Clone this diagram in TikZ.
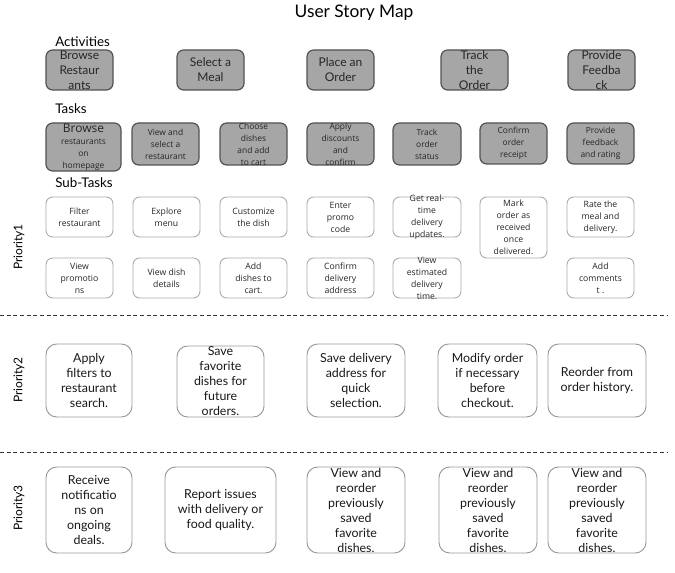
\documentclass[tikz,border=0pt]{standalone}
\usepackage{fontspec}
\setmainfont{Lato}
\newfontfamily\smallfont{Open Sans}
\begin{document}
\begin{tikzpicture}[x=0.75pt,y=-0.75pt,
  act/.style={draw=black!68,line width=0.9pt,fill=black!35,rounded corners=5pt},
  acttxt/.style={align=center,font=\fontsize{9}{11.25}\selectfont,text=black!85},
  tsk/.style={draw=black!68,line width=0.9pt,fill=black!35,rounded corners=5pt},
  tsktxt/.style={align=center,font=\smallfont\fontsize{6.3}{9}\selectfont,text=black!85},
  sub/.style={draw=black!33,line width=0.7pt,fill=white,rounded corners=5pt},
  subtxt/.style={align=center,font=\smallfont\fontsize{6.5}{9}\selectfont,text=black!85},
  pri/.style={draw=black!40,line width=0.7pt,fill=white,rounded corners=8pt},
  pritxt/.style={align=center,font=\fontsize{9.3}{11.25}\selectfont,text=black!90},
  hdr/.style={font=\fontsize{10}{12}\selectfont,anchor=west,inner sep=0pt},
  plabel/.style={font=\fontsize{9}{11}\selectfont,rotate=90,inner sep=0pt},
  sep/.style={line width=0.7pt,dash pattern=on 3pt off 2pt,draw=black!80}]
\useasboundingbox (0,0) rectangle (675,573);
\newcommand\ubox[7]{\node[#6, minimum width={(#4-#2)*0.75pt}, minimum height={(#5-#3)*0.75pt}, label={[#6txt]center:{#7}}] (#1) at ({(#2+#4)/2},{(#3+#5)/2}) {};}

% title and headers
\node[font=\fontsize{13}{15}\selectfont] (title) at (354,13) {User Story Map};
\node[hdr] (hact) at (55,42) {Activities};
\node[hdr] (htsk) at (55,109) {Tasks};
\node[hdr] (hsub) at (55,183) {Sub-Tasks};
\node[plabel] (p1) at (19,247) {Priority1};
\node[plabel] (p2) at (19,380) {Priority2};
\node[plabel] (p3) at (19,508) {Priority3};

% activities
\ubox{a1}{46}{50}{113}{90}{act}{Browse\\Restaur\\ants}
\ubox{a2}{177}{50}{244}{90}{act}{Select a\\Meal}
\ubox{a3}{307}{50}{374}{90}{act}{Place an\\Order}
\ubox{a4}{441}{50}{508}{90}{act}{Track\\the\\Order}
\ubox{a5}{568}{50}{635}{90}{act}{Provide\\Feedba\\ck}

% tasks
\ubox{t1}{46}{123}{121}{171}{tsk}{{\fontsize{9}{9}\selectfont Browse}\\restaurants\\on\\homepage}
\ubox{t2}{132}{123}{199}{165}{tsk}{View and\\select a\\restaurant}
\ubox{t3}{220}{123}{287}{165}{tsk}{Choose\\dishes\\and add\\to cart}
\ubox{t4}{307}{123}{374}{165}{tsk}{Apply\\discounts\\and\\confirm}
\ubox{t5}{393}{123}{461}{165}{tsk}{Track\\order\\status}
\ubox{t6}{480}{123}{547}{164}{tsk}{Confirm\\order\\receipt}
\ubox{t7}{567}{123}{634}{164}{tsk}{Provide\\feedback\\and rating}

% sub-tasks row 1
\ubox{s11}{46}{197}{113}{237}{sub}{Filter\\restaurant}
\ubox{s12}{133}{197}{200}{237}{sub}{Explore\\menu}
\ubox{s13}{220}{197}{287}{237}{sub}{Customize\\the dish}
\ubox{s14}{307}{197}{374}{237}{sub}{Enter\\promo\\code}
\ubox{s15}{393}{197}{461}{237}{sub}{Get real-\\time\\delivery\\updates.}
\ubox{s16}{480}{197}{547}{258}{sub}{Mark\\order as\\received\\once\\delivered.}
\ubox{s17}{567}{197}{634}{237}{sub}{Rate the\\meal and\\delivery.}
% sub-tasks row 2
\ubox{s21}{46}{258}{113}{298}{sub}{View\\promotio\\ns}
\ubox{s22}{133}{258}{200}{298}{sub}{View dish\\details}
\ubox{s23}{220}{258}{287}{298}{sub}{Add\\dishes to\\cart.}
\ubox{s24}{307}{258}{374}{298}{sub}{Confirm\\delivery\\address}
\ubox{s25}{393}{258}{461}{298}{sub}{View\\estimated\\delivery\\time.}
\ubox{s27}{567}{258}{634}{298}{sub}{Add\\comments\\t .}

% separators
\coordinate (d1a) at (0,315); \coordinate (d1b) at (668,315);
\coordinate (d2a) at (0,452); \coordinate (d2b) at (668,452);
\draw[sep] (d1a) -- (d1b);
\draw[sep] (d2a) -- (d2b);

% priority 2
\ubox{q1}{46}{344}{132}{417}{pri}{Apply\\filters to\\restaurant\\search.}
\ubox{q2}{177}{346}{264}{417}{pri}{Save\\favorite\\dishes for\\future\\orders.}
\ubox{q3}{307}{344}{405}{417}{pri}{Save delivery\\address for\\quick\\selection.}
\ubox{q4}{438}{344}{537}{417}{pri}{Modify order\\if necessary\\before\\checkout.}
\ubox{q5}{548}{344}{646}{417}{pri}{Reorder from\\order history.}

% priority 3
\ubox{r1}{46}{467}{132}{553}{pri}{Receive\\notificatio\\ns on\\ongoing\\deals.}
\ubox{r2}{165}{467}{276}{553}{pri}{Report issues\\with delivery or\\food quality.}
\ubox{r3}{307}{467}{405}{553}{pri}{View and\\reorder\\previously\\saved\\favorite\\dishes.}
\ubox{r4}{439}{467}{537}{553}{pri}{View and\\reorder\\previously\\saved\\favorite\\dishes.}
\ubox{r5}{548}{467}{646}{553}{pri}{View and\\reorder\\previously\\saved\\favorite\\dishes.}
\end{tikzpicture}
\end{document}
